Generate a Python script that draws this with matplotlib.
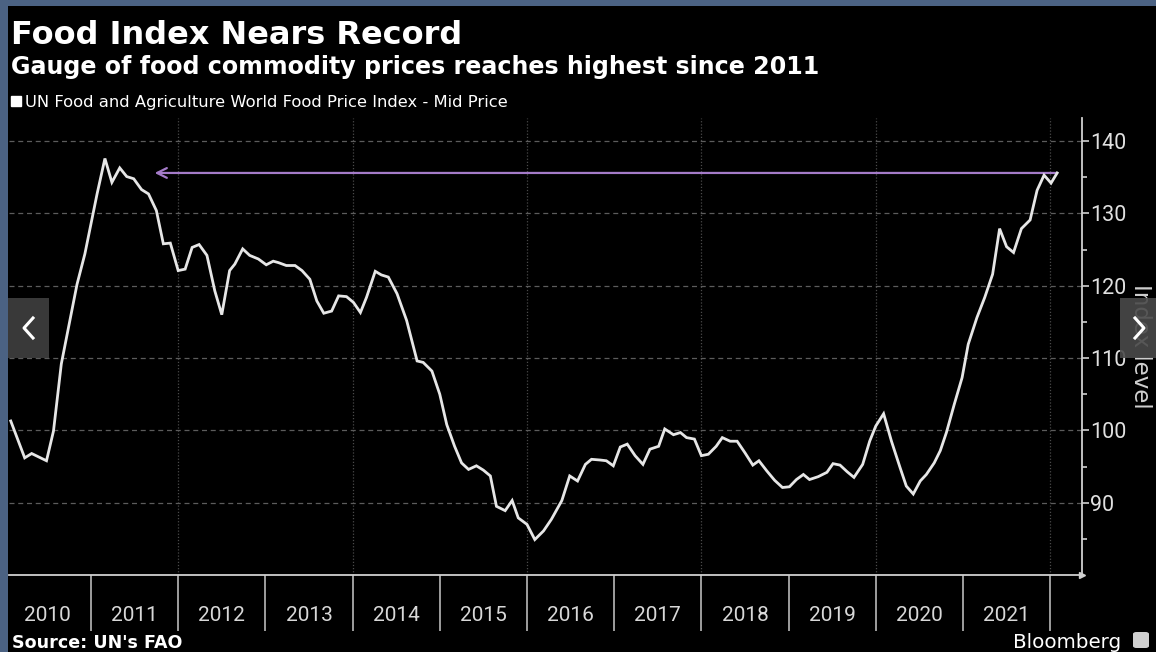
import matplotlib
matplotlib.use("Agg")
import matplotlib.pyplot as plt
from matplotlib.lines import Line2D
from matplotlib.patches import Rectangle, FancyBboxPatch
from matplotlib.ticker import FixedLocator, NullFormatter, FixedFormatter

# ---- data -------------------------------------------------------------
dates = [2010.08, 2010.24, 2010.32, 2010.49, 2010.57, 2010.66, 2010.84, 2010.93, 2011.07, 2011.16,
         2011.24, 2011.33, 2011.41, 2011.49, 2011.58, 2011.66, 2011.75, 2011.83, 2011.91, 2012.00,
         2012.08, 2012.16, 2012.24, 2012.33, 2012.42, 2012.50, 2012.59, 2012.65, 2012.74, 2012.82,
         2012.92, 2013.01, 2013.09, 2013.15, 2013.24, 2013.34, 2013.42, 2013.51, 2013.59, 2013.67,
         2013.76, 2013.84, 2013.93, 2014.01, 2014.09, 2014.16, 2014.26, 2014.33, 2014.41, 2014.51,
         2014.62, 2014.74, 2014.81, 2014.91, 2015.00, 2015.08, 2015.17, 2015.25, 2015.33, 2015.42,
         2015.50, 2015.58, 2015.65, 2015.75, 2015.83, 2015.90, 2016.00, 2016.09, 2016.19, 2016.28,
         2016.40, 2016.49, 2016.58, 2016.67, 2016.74, 2016.84, 2016.91, 2016.99, 2017.07, 2017.15,
         2017.24, 2017.33, 2017.41, 2017.51, 2017.58, 2017.68, 2017.76, 2017.83, 2017.92, 2018.00,
         2018.08, 2018.17, 2018.24, 2018.33, 2018.41, 2018.50, 2018.59, 2018.66, 2018.75, 2018.84,
         2018.93, 2019.01, 2019.09, 2019.17, 2019.24, 2019.34, 2019.44, 2019.51, 2019.59, 2019.67,
         2019.75, 2019.85, 2019.93, 2020.00, 2020.09, 2020.18, 2020.28, 2020.35, 2020.43, 2020.51,
         2020.58, 2020.67, 2020.74, 2020.81, 2020.90, 2020.99, 2021.06, 2021.16, 2021.25, 2021.34,
         2021.42, 2021.50, 2021.58, 2021.67, 2021.77, 2021.85, 2021.93, 2022.01, 2022.08]

index_values = [101.3, 96.2, 96.8, 95.8, 99.9, 109.2, 120.2, 124.4, 132.7, 137.6,
                134.3, 136.3, 135.1, 134.8, 133.3, 132.7, 130.4, 125.8, 125.9, 122.1,
                122.3, 125.3, 125.7, 124.2, 119.3, 116.0, 122.1, 123.0, 125.1, 124.2,
                123.7, 122.9, 123.4, 123.2, 122.8, 122.8, 122.1, 120.9, 117.9, 116.2,
                116.5, 118.6, 118.5, 117.7, 116.3, 118.4, 122.0, 121.5, 121.2, 118.9,
                115.2, 109.6, 109.4, 108.2, 105.0, 100.8, 97.8, 95.5, 94.6, 95.1,
                94.5, 93.7, 89.5, 88.9, 90.3, 87.9, 87.0, 84.9, 86.1, 87.7,
                90.3, 93.7, 93.0, 95.3, 96.0, 95.9, 95.8, 95.1, 97.7, 98.1,
                96.5, 95.3, 97.4, 97.8, 100.2, 99.4, 99.7, 99.0, 98.8, 96.5,
                96.7, 97.8, 99.0, 98.5, 98.5, 96.9, 95.2, 95.8, 94.4, 93.1,
                92.1, 92.2, 93.2, 93.9, 93.2, 93.6, 94.2, 95.4, 95.2, 94.3,
                93.5, 95.3, 98.5, 100.6, 102.3, 98.5, 94.8, 92.3, 91.2, 93.0,
                93.9, 95.5, 97.2, 99.7, 103.6, 107.3, 111.9, 115.6, 118.4, 121.6,
                127.9, 125.4, 124.6, 127.9, 129.1, 133.2, 135.3, 134.2, 135.6]

year_labels = ["2010", "2011", "2012", "2013", "2014", "2015",
               "2016", "2017", "2018", "2019", "2020", "2021"]
year_bounds = [2011, 2012, 2013, 2014, 2015, 2016, 2017, 2018, 2019, 2020, 2021, 2022]
y_ticks = [90, 100, 110, 120, 130, 140]
y_minor = [85, 95, 105, 115, 125, 135]

arrow_tip_year = 2011.73          # the 2011 high the latest reading points back to

title = "Food Index Nears Record"
subtitle = "Gauge of food commodity prices reaches highest since 2011"
series_label = "UN Food and Agriculture World Food Price Index - Mid Price"
source = "Source: UN's FAO"

# ---- figure -----------------------------------------------------------
W, H = 1156, 652
fig = plt.figure(figsize=(W / 100, H / 100), dpi=100, facecolor="black")

def fx(px):
    return px / W

def fy(py):
    return 1 - py / H

# frame strips along the left and top edge
frame = "#4b6283"
fig.patches.append(Rectangle((0, 0), fx(8), 1, transform=fig.transFigure,
                             facecolor=frame, edgecolor="none", zorder=0))
fig.patches.append(Rectangle((0, fy(6)), 1, 6 / H, transform=fig.transFigure,
                             facecolor=frame, edgecolor="none", zorder=0))

ax = fig.add_axes([fx(9), fy(575), fx(1082 - 9), (575 - 118) / H])
ax.set_facecolor("black")
ax.set_xlim(2010.06, 2022.365)
ax.set_ylim(80, 143.2)

axis_col = "#d0d0d0"
grid_col = "#5c5c5c"

# spines
for s in ("top", "left"):
    ax.spines[s].set_visible(False)
for s in ("bottom", "right"):
    ax.spines[s].set_color(axis_col)
    ax.spines[s].set_linewidth(1.3)
ax.plot(1, 0, marker=">", transform=ax.transAxes, clip_on=False,
        color=axis_col, markersize=4, zorder=5)

# y axis on the right
ax.yaxis.tick_right()
ax.yaxis.set_major_locator(FixedLocator(y_ticks))
ax.yaxis.set_minor_locator(FixedLocator(y_minor))
ax.tick_params(axis="y", which="major", direction="out", length=5, width=1.2,
               color=axis_col, labelcolor="#e0e0e0", labelsize=15.5, pad=1)
ax.tick_params(axis="y", which="minor", direction="out", length=3.5, width=1.2,
               color=axis_col)
for lab in ax.get_yticklabels():
    lab.set_fontfamily("Roboto")

# x axis: long separators at year boundaries, labels centred in each year
ax.xaxis.set_major_locator(FixedLocator(year_bounds))
ax.xaxis.set_major_formatter(NullFormatter())
ax.xaxis.set_minor_locator(FixedLocator([b - 0.5 for b in year_bounds]))
ax.xaxis.set_minor_formatter(FixedFormatter(year_labels))
ax.tick_params(axis="x", which="major", direction="out", length=40, width=1.2,
               color="#b8b8b8")
ax.tick_params(axis="x", which="minor", length=0, pad=22,
               labelcolor="#d8d8d8", labelsize=15)
for lab in ax.get_xticklabels(minor=True):
    lab.set_fontfamily("Roboto")

# grid
ax.yaxis.grid(True, which="major", color=grid_col, linestyle=(0, (4, 3)), linewidth=0.9)
for b in year_bounds[1::2]:
    ax.axvline(b, color="#4a4a4a", linestyle=(0, (1, 1.5)), linewidth=0.9, zorder=1)

# series
ax.plot(dates, index_values, color="#e6e6e6", linewidth=2.0, zorder=4,
        solid_joinstyle="miter", label=series_label)

# arrow from the latest reading back to the 2011 level
ax.annotate("", xy=(arrow_tip_year, index_values[-1]),
            xytext=(dates[-1], index_values[-1]),
            arrowprops=dict(arrowstyle="->,head_length=0.7,head_width=0.35",
                            color="#a47bc8", linewidth=1.6, shrinkA=0, shrinkB=0),
            zorder=3)

ax.set_ylabel("Index level", color="#cfcfcf", fontsize=16.5, rotation=270,
              labelpad=18)
ax.yaxis.set_label_position("right")

# titles
fig.text(fx(11), fy(44), title, color="white", fontsize=23, fontweight="bold",
         ha="left", va="baseline")
fig.text(fx(11), fy(74), subtitle, color="white", fontsize=17.1, fontweight="bold",
         ha="left", va="baseline")

# legend
handle = Line2D([], [], marker="s", linestyle="none", color="white", markersize=6.5)
fig.legend([handle], [series_label], loc="center left",
           bbox_to_anchor=(fx(11), fy(102)), frameon=False,
           handlelength=0.6, handletextpad=0.25, borderpad=0, borderaxespad=0,
           labelcolor="white", fontsize=11.8)

# footer
fig.text(fx(12), fy(648), source, color="white", fontsize=12.6, fontweight="bold",
         ha="left", va="baseline")
fig.text(fx(1121), fy(648), "Bloomberg", color="white", fontsize=14.3,
         ha="right", va="baseline")
fig.patches.append(FancyBboxPatch((fx(1133), fy(648)), fx(16), 16 / H,
                                  boxstyle="round,pad=0,rounding_size=0.003",
                                  transform=fig.transFigure, facecolor="#d0d0d0",
                                  edgecolor="none"))

# carousel buttons at the sides
fig.patches.append(Rectangle((fx(8), fy(358)), fx(41), 60 / H, transform=fig.transFigure,
                             facecolor="#3d3d3d", edgecolor="none", alpha=0.95, zorder=10))
fig.patches.append(Rectangle((fx(1120), fy(358)), fx(36), 60 / H, transform=fig.transFigure,
                             facecolor="#4a4a4a", edgecolor="none", alpha=0.9, zorder=10))
fig.lines.append(Line2D([fx(33), fx(24), fx(33)], [fy(318), fy(328), fy(338)],
                        transform=fig.transFigure, color="white", linewidth=2.2, zorder=11))
fig.lines.append(Line2D([fx(1135), fx(1144), fx(1135)], [fy(318), fy(328), fy(338)],
                        transform=fig.transFigure, color="white", linewidth=2.2, zorder=11))

fig.savefig("out.png", dpi=100, facecolor="black")
